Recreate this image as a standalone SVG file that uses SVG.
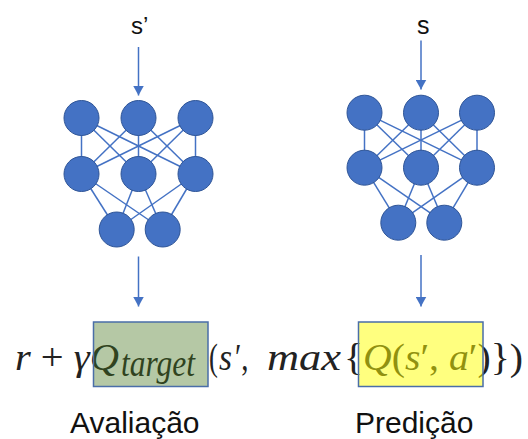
<svg xmlns="http://www.w3.org/2000/svg" width="528" height="439" viewBox="0 0 528 439">
<style>
.n{fill:#4472c4;stroke:#2f5597;stroke-width:1}
.e{stroke:#4472c4;stroke-width:1.5;fill:none}
.a{stroke:#4472c4;stroke-width:1.5;fill:none}
.lbl{font-family:"Liberation Sans",Arial,sans-serif;fill:#111}
.f{font-family:"Liberation Serif","Times New Roman",serif;font-size:38px;fill:#222}
.i{font-style:italic}
</style>
<defs>
<marker id="ah" viewBox="0 0 10 11" refX="10" refY="5.5" markerWidth="10" markerHeight="11" markerUnits="userSpaceOnUse" orient="auto">
<path d="M0,0 L10,5.5 L0,11 z" fill="#4472c4"/>
</marker>
</defs>
<rect width="528" height="439" fill="#fff"/>
<g id="connectors">
<line class="e" x1="81.5" y1="118" x2="81.5" y2="174"/>
<line class="e" x1="81.5" y1="118" x2="138.5" y2="174"/>
<line class="e" x1="81.5" y1="118" x2="195.5" y2="174"/>
<line class="e" x1="138.5" y1="118" x2="81.5" y2="174"/>
<line class="e" x1="138.5" y1="118" x2="138.5" y2="174"/>
<line class="e" x1="138.5" y1="118" x2="195.5" y2="174"/>
<line class="e" x1="195.5" y1="118" x2="81.5" y2="174"/>
<line class="e" x1="195.5" y1="118" x2="138.5" y2="174"/>
<line class="e" x1="195.5" y1="118" x2="195.5" y2="174"/>
<line class="e" x1="81.5" y1="174" x2="116.7" y2="229.5"/>
<line class="e" x1="81.5" y1="174" x2="162.7" y2="229.5"/>
<line class="e" x1="138.5" y1="174" x2="116.7" y2="229.5"/>
<line class="e" x1="138.5" y1="174" x2="162.7" y2="229.5"/>
<line class="e" x1="195.5" y1="174" x2="116.7" y2="229.5"/>
<line class="e" x1="195.5" y1="174" x2="162.7" y2="229.5"/>
<line class="e" x1="364.5" y1="112.7" x2="364.5" y2="167.7"/>
<line class="e" x1="364.5" y1="112.7" x2="421" y2="167.7"/>
<line class="e" x1="364.5" y1="112.7" x2="477" y2="167.7"/>
<line class="e" x1="421" y1="112.7" x2="364.5" y2="167.7"/>
<line class="e" x1="421" y1="112.7" x2="421" y2="167.7"/>
<line class="e" x1="421" y1="112.7" x2="477" y2="167.7"/>
<line class="e" x1="477" y1="112.7" x2="364.5" y2="167.7"/>
<line class="e" x1="477" y1="112.7" x2="421" y2="167.7"/>
<line class="e" x1="477" y1="112.7" x2="477" y2="167.7"/>
<line class="e" x1="364.5" y1="167.7" x2="398.3" y2="222.7"/>
<line class="e" x1="364.5" y1="167.7" x2="444.3" y2="222.7"/>
<line class="e" x1="421" y1="167.7" x2="398.3" y2="222.7"/>
<line class="e" x1="421" y1="167.7" x2="444.3" y2="222.7"/>
<line class="e" x1="477" y1="167.7" x2="398.3" y2="222.7"/>
<line class="e" x1="477" y1="167.7" x2="444.3" y2="222.7"/>
<line class="a" x1="138.5" y1="47" x2="138.5" y2="95.5" marker-end="url(#ah)"/>
<line class="a" x1="421" y1="40.5" x2="421" y2="89.5" marker-end="url(#ah)"/>
<line class="a" x1="138.5" y1="256.5" x2="138.5" y2="306.5" marker-end="url(#ah)"/>
<line class="a" x1="421" y1="255" x2="421" y2="306.5" marker-end="url(#ah)"/>
</g>
<g id="left-network">
<g id="L-t1"><circle class="n" cx="81.5" cy="118" r="17.5"/></g>
<g id="L-t2"><circle class="n" cx="138.5" cy="118" r="17.5"/></g>
<g id="L-t3"><circle class="n" cx="195.5" cy="118" r="17.5"/></g>
<g id="L-m1"><circle class="n" cx="81.5" cy="174" r="17.5"/></g>
<g id="L-m2"><circle class="n" cx="138.5" cy="174" r="17.5"/></g>
<g id="L-m3"><circle class="n" cx="195.5" cy="174" r="17.5"/></g>
<g id="L-b1"><circle class="n" cx="116.7" cy="229.5" r="17.5"/></g>
<g id="L-b2"><circle class="n" cx="162.7" cy="229.5" r="17.5"/></g>
</g>
<g id="right-network">
<g id="R-t1"><circle class="n" cx="364.5" cy="112.7" r="17.5"/></g>
<g id="R-t2"><circle class="n" cx="421" cy="112.7" r="17.5"/></g>
<g id="R-t3"><circle class="n" cx="477" cy="112.7" r="17.5"/></g>
<g id="R-m1"><circle class="n" cx="364.5" cy="167.7" r="17.5"/></g>
<g id="R-m2"><circle class="n" cx="421" cy="167.7" r="17.5"/></g>
<g id="R-m3"><circle class="n" cx="477" cy="167.7" r="17.5"/></g>
<g id="R-b1"><circle class="n" cx="398.3" cy="222.7" r="17.5"/></g>
<g id="R-b2"><circle class="n" cx="444.3" cy="222.7" r="17.5"/></g>
</g>
<g id="input-left"><text class="lbl" x="131" y="33.5" font-size="24">s’</text></g>
<g id="input-right"><text class="lbl" x="417" y="33.5" font-size="25">s</text></g>
<g id="formula">
<text class="f" x="15" y="370" textLength="104" lengthAdjust="spacingAndGlyphs"><tspan class="i">r</tspan> + <tspan class="i">γQ</tspan></text>
<text class="f i" x="121" y="376" font-size="25" textLength="74" lengthAdjust="spacingAndGlyphs">target</text>
<text class="f" transform="translate(209,370) scale(0.7,1)">(</text>
<text class="f i" transform="translate(219,370) scale(0.88,1)">s</text>
<text class="f" transform="translate(235,370) scale(0.76,1)">′,</text>
<text class="f i" x="267" y="370" textLength="74" lengthAdjust="spacingAndGlyphs">max</text>
<text class="f" x="344" y="370" textLength="179" lengthAdjust="spacingAndGlyphs">{<tspan class="i">Q</tspan>(<tspan class="i">s</tspan>′, <tspan class="i">a</tspan>′)})</text>
</g>
<g id="target-box"><rect x="93.5" y="322" width="114.5" height="64.5" fill="#46751e" fill-opacity="0.4" stroke="#4a6ea8" stroke-width="1.5"/></g>
<g id="predict-box"><rect x="358.5" y="322" width="124.5" height="64.5" fill="#ffff00" fill-opacity="0.5" stroke="#4a6ea8" stroke-width="1.5"/></g>
<g id="label-left"><text class="lbl" x="70" y="433" font-size="30">Avaliação</text></g>
<g id="label-right"><text class="lbl" x="355" y="433" font-size="30">Predição</text></g>
</svg>
